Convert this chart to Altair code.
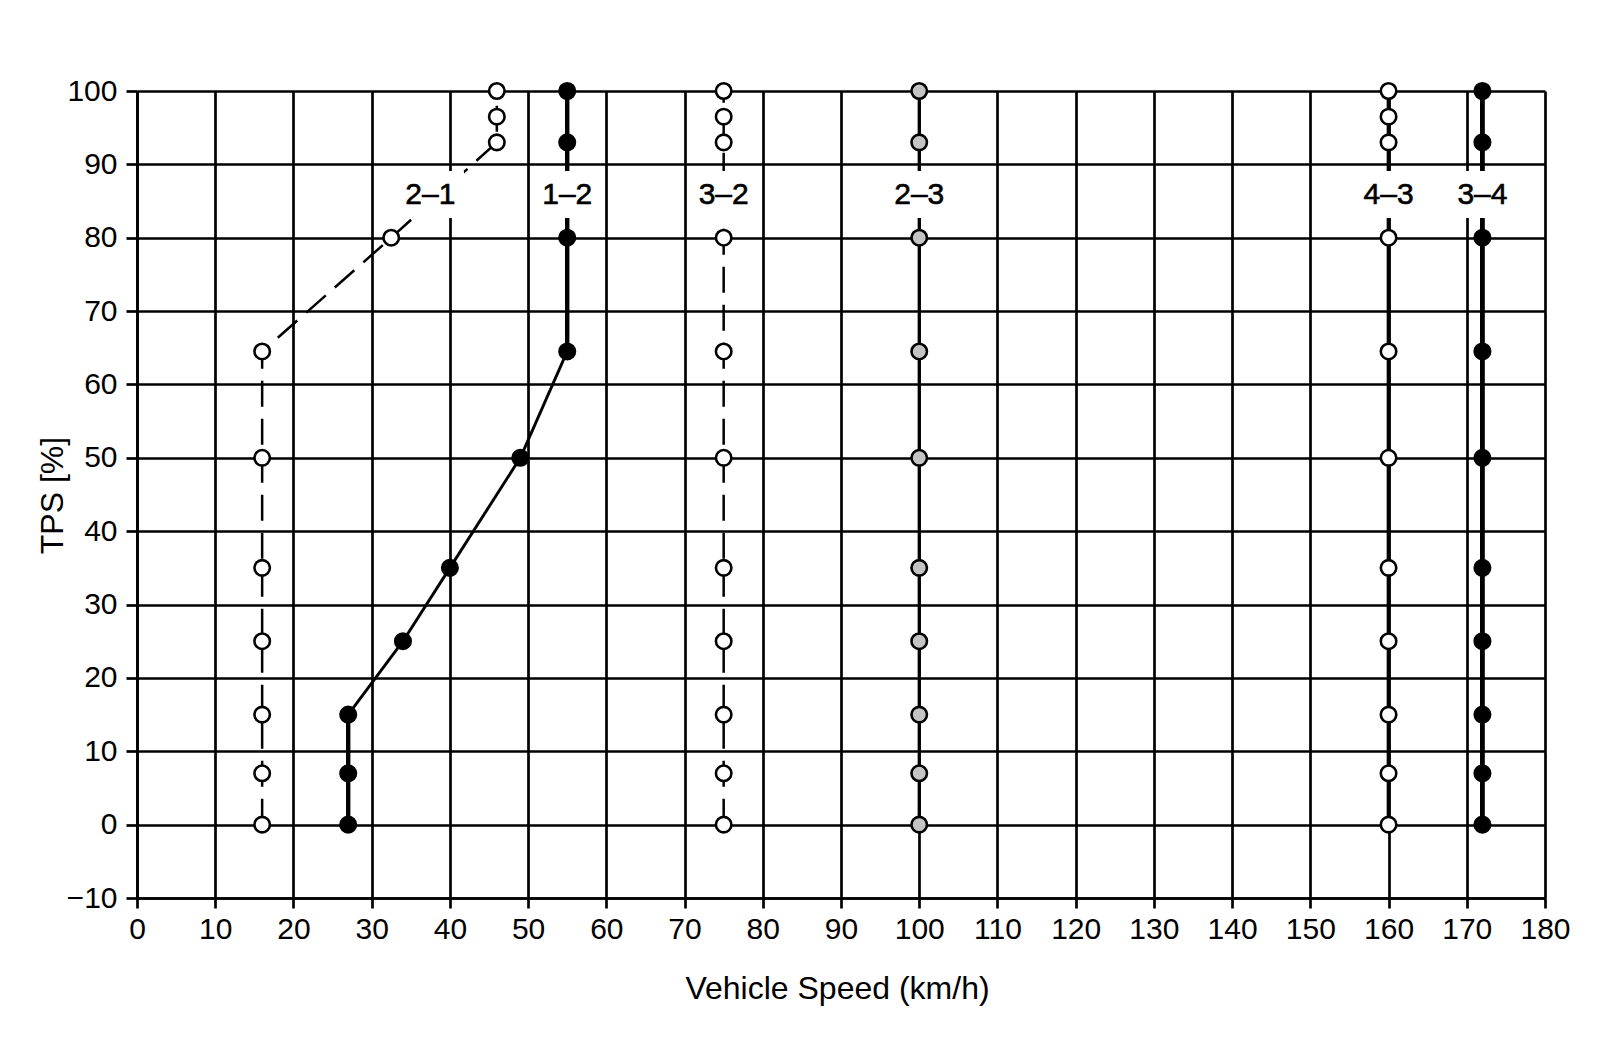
import altair as alt
import pandas as pd

# ---- data ----
c21_speed = [16, 16, 16, 16, 16, 16, 16, 32.5, 46, 46, 46]
c21_tps = [0, 7, 15, 25, 35, 50, 64.5, 80, 93, 96.5, 100]

c12_speed = [27, 27, 27, 34, 40, 49, 55, 55, 55, 55]
c12_tps = [0, 7, 15, 25, 35, 50, 64.5, 80, 93, 100]

c32_speed = [75] * 11
c32_tps = [0, 7, 15, 25, 35, 50, 64.5, 80, 93, 96.5, 100]

c23_speed = [100] * 10
c23_tps = [0, 7, 15, 25, 35, 50, 64.5, 80, 93, 100]

c43_speed = [160] * 11
c43_tps = [0, 7, 15, 25, 35, 50, 64.5, 80, 93, 96.5, 100]

c34_speed = [172] * 10
c34_tps = [0, 7, 15, 25, 35, 50, 64.5, 80, 93, 100]

label_text = ["2–1", "1–2", "3–2", "2–3", "4–3", "3–4"]
label_speed = [37.5, 55, 75, 100, 160, 172]
label_tps = [85.8, 85.8, 85.8, 85.8, 85.8, 85.8]

x_ticks = list(range(0, 181, 10))
y_ticks = list(range(-10, 101, 10))

FONT = "Liberation Sans, Arial, Helvetica, sans-serif"

curves = [
    ("2-1", c21_speed, c21_tps, "open", True, 2.4, 2.4),
    ("1-2", c12_speed, c12_tps, "filled", False, 4.4, 2.9),
    ("3-2", c32_speed, c32_tps, "open", True, 2.6, 2.6),
    ("2-3", c23_speed, c23_tps, "gray", False, 3.2, 3.2),
    ("4-3", c43_speed, c43_tps, "open", False, 3.8, 3.8),
    ("3-4", c34_speed, c34_tps, "filled", False, 4.8, 4.8),
]

pts_rows, dash_rows, seg_rows = [], [], []
for name, xs_, ys_, kind, dashed, wv, wd in curves:
    for i, (xv, yv) in enumerate(zip(xs_, ys_)):
        pts_rows.append({"curve": name, "speed": xv, "tps": yv, "kind": kind})
        if dashed:
            dash_rows.append({"curve": name, "speed": xv, "tps": yv, "i": i})
    if not dashed:
        for i in range(len(xs_) - 1):
            seg_rows.append({
                "curve": name, "speed": xs_[i], "tps": ys_[i],
                "speed2": xs_[i + 1], "tps2": ys_[i + 1],
                "w": wv if xs_[i] == xs_[i + 1] else wd,
            })

pts = pd.DataFrame(pts_rows)
dash = pd.DataFrame(dash_rows)
segs = pd.DataFrame(seg_rows)
labels = pd.DataFrame({"text": label_text, "speed": label_speed, "tps": label_tps})
labels["x1"] = labels["speed"] - 4.3
labels["x2"] = labels["speed"] + 4.3
labels["y1"] = labels["tps"] - 3.1
labels["y2"] = labels["tps"] + 3.3

xscale = alt.Scale(domain=[0, 180], nice=False, zero=False)
yscale = alt.Scale(domain=[-10, 100], nice=False, zero=False)

common_axis = dict(
    grid=True, gridColor="black", gridWidth=2.7, gridOpacity=1,
    domainColor="black", domainWidth=2.7,
    tickColor="black", tickWidth=2.7,
    labelFont=FONT, labelFontSize=30, labelColor="black",
    titleFont=FONT, titleFontSize=32, titleFontWeight="normal", titleColor="black",
    labelFlush=False, labelOverlap=False,
)
xaxis = alt.Axis(values=x_ticks, tickSize=10, labelPadding=6,
                 titleX=700, titleY=100, titleBaseline="alphabetic", **common_axis)
yaxis = alt.Axis(values=y_ticks, tickSize=11, labelPadding=9,
                 titleX=-75, titleY=404, titleAngle=270, titleAlign="center",
                 titleBaseline="alphabetic", **common_axis)

def X(field):
    return alt.X(field, type="quantitative", scale=xscale, axis=xaxis, title="Vehicle Speed (km/h)")

def Y(field):
    return alt.Y(field, type="quantitative", scale=yscale, axis=yaxis, title="TPS [%]")

dash_layer = alt.Chart(dash).mark_line(color="black", strokeWidth=2.5, strokeDash=[26, 12]).encode(
    x=X("speed"), y=Y("tps"), detail="curve:N", order="i:Q"
)

seg_layer = alt.Chart(segs).mark_rule(color="black").encode(
    x=X("speed"), y=Y("tps"), x2="speed2:Q", y2="tps2:Q",
    strokeWidth=alt.StrokeWidth("w:Q", scale=None),
)

box_layer = alt.Chart(labels).mark_rect(color="white").encode(
    x=X("x1"), x2="x2:Q", y=Y("y1"), y2="y2:Q"
)

text_layer = alt.Chart(labels).mark_text(font=FONT, fontSize=30, color="black", stroke="black",
                                         strokeWidth=0.6, baseline="middle", align="center").encode(
    x=X("speed"), y=Y("tps"), text="text:N"
)

pt_layer = alt.Chart(pts).mark_point(shape="circle", filled=True, size=240, stroke="black",
                                     strokeWidth=2.6, opacity=1).encode(
    x=X("speed"), y=Y("tps"),
    fill=alt.Fill("kind:N", scale=alt.Scale(domain=["open", "filled", "gray"],
                                            range=["white", "black", "#c4c4c4"]), legend=None),
)

chart = alt.layer(dash_layer, seg_layer, box_layer, text_layer, pt_layer).properties(
    width=1408, height=807,
    autosize=alt.AutoSizeParams(type="none"),
    padding={"left": 129, "top": 83, "right": 40, "bottom": 130},
    background="white",
).configure_view(strokeWidth=0)

chart.save("out.html", embed_options={"renderer": "svg", "actions": False})
